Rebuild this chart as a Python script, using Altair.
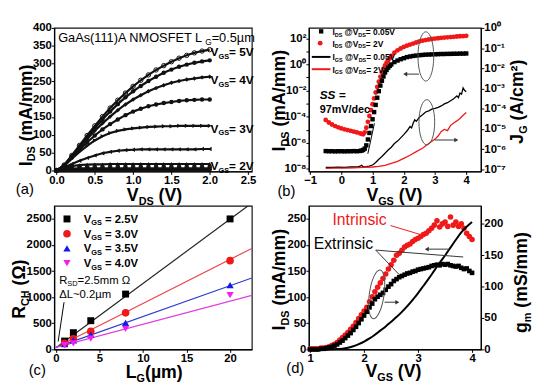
import altair as alt
import pandas as pd

FONT = "Liberation Sans"
RED = "#f01818"

# ---------------- (a) output characteristics ----------------
VDS = [0.0, 0.1, 0.2, 0.3, 0.4, 0.5, 0.6, 0.7, 0.8, 0.9, 1.0,
       1.1, 1.2, 1.3, 1.4, 1.5, 1.6, 1.7, 1.8, 1.9, 2.0]
VGS_A = ["5.0", "4.5", "4.0", "3.5", "3.0", "2.5", "2.0", "1.5", "1.0"]
IDS_50 = [0, 15, 42, 70, 98, 125, 151, 175, 197, 217, 236, 253, 268, 282, 294, 305, 315, 323, 330, 335, 339]
IDS_45 = [0, 14, 40, 67, 94, 119, 143, 165, 186, 205, 222, 237, 251, 263, 274, 283, 291, 297, 302, 306, 309]
IDS_40 = [0, 14, 38, 63, 88, 111, 132, 151, 169, 185, 199, 211, 222, 231, 239, 246, 251, 255, 258, 261, 263]
IDS_35 = [0, 13, 36, 58, 79, 98, 115, 130, 143, 155, 165, 173, 180, 185, 189, 192, 195, 197, 198, 199, 199]
IDS_30 = [0, 12, 33, 52, 69, 84, 96, 105, 111, 115, 118, 120, 122, 123, 124, 124, 125, 125, 125, 125, 125]
IDS_25 = [0, 8, 18, 27, 35, 42, 48, 52, 55, 57, 58, 59, 59, 59, 59, 59, 59, 59, 59, 60, 60]
IDS_20 = [0, 6, 12, 15, 16, 17, 17, 18, 18, 18, 18, 18, 18, 18, 18, 18, 18, 18, 18, 18, 18]
IDS_15 = [0, 3, 5, 6, 6, 6, 6, 6, 6, 6, 6, 6, 6, 6, 6, 6, 6, 6, 6, 6, 6]
IDS_10 = [0, 1, 1, 1, 1, 1, 1, 1, 1, 1, 1, 1, 1, 1, 1, 1, 1, 1, 1, 1, 1]
SHAPES_A = ["circle", "circle", "diamond", "circle", "triangle-right",
            "triangle-left", "triangle-up", "square", "diamond"]

# ---------------- (b) transfer characteristics ----------------
VB = [-0.5, -0.4, -0.3, -0.2, -0.1, 0.0, 0.1, 0.2, 0.3, 0.4, 0.5, 0.6,
      0.65, 0.7, 0.75, 0.8, 0.85, 0.9, 0.95, 1.0, 1.05, 1.1, 1.15, 1.2, 1.25, 1.3,
      1.35, 1.4, 1.45, 1.5, 1.55, 1.6,
      1.7, 1.8, 1.9, 2.0, 2.1, 2.2, 2.3, 2.4, 2.5, 2.6, 2.7, 2.8, 2.9, 3.0,
      3.1, 3.2, 3.3, 3.4, 3.5, 3.6, 3.7, 3.8, 3.9, 4.0]
LOG_IDS_2V = [-4.25, -4.45, -4.6, -4.72, -4.82, -4.9, -4.97, -5.03, -5.09, -5.15, -5.21, -5.28,
              -5.32, -5.35, -5.2, -4.85, -4.4, -3.95, -3.5, -3.05, -2.6, -2.15, -1.72, -1.32,
              -0.95, -0.62, -0.33, -0.08, 0.14, 0.33, 0.5, 0.65,
              0.9, 1.08, 1.22, 1.34, 1.44, 1.52, 1.6, 1.68, 1.76, 1.82, 1.87, 1.91, 1.95,
              1.98, 2.01, 2.04, 2.06, 2.08, 2.1, 2.12, 2.14, 2.16, 2.17, 2.19]
LOG_IDS_005 = [-6.64, -6.65, -6.65, -6.66, -6.65, -6.65, -6.66, -6.65, -6.65, -6.64, -6.65, -6.63,
               -6.6, -6.55, -6.45, -6.2, -5.75, -5.25, -4.72, -4.2, -3.65, -3.1, -2.55, -2.05,
               -1.62, -1.25, -0.92, -0.62, -0.42, -0.25, -0.11, 0.0,
               0.18, 0.3, 0.4, 0.48, 0.56, 0.61, 0.65, 0.68, 0.71, 0.73, 0.75, 0.76, 0.77,
               0.78, 0.79, 0.8, 0.8, 0.81, 0.81, 0.82, 0.82, 0.83, 0.83, 0.84]
VG_005 = [-0.5, -0.3, -0.1, 0.1, 0.3, 0.5, 0.6, 0.65, 0.7, 0.8, 0.9, 1.0, 1.1, 1.2, 1.3, 1.4,
          1.5, 1.6, 1.7, 1.8, 1.9, 2.0, 2.1, 2.2, 2.25, 2.3, 2.35, 2.4, 2.5, 2.6, 2.7, 2.8,
          2.9, 3.0, 3.1, 3.2, 3.3, 3.4, 3.5, 3.6, 3.7, 3.75, 3.8, 3.85, 3.9, 3.95, 4.0]
LOG_JG_005 = [-6.9, -6.9, -6.89, -6.9, -6.88, -6.88, -6.84, -6.8, -6.87, -6.86, -6.84, -6.78,
              -6.66, -6.5, -6.36, -6.2, -6.04, -5.9, -5.72, -5.6, -5.44, -5.28, -5.1, -4.88,
              -4.95, -4.72, -4.55, -4.62, -4.42, -4.3, -4.16, -4.1, -4.02, -3.98, -3.93, -3.86,
              -3.76, -3.7, -3.6, -3.5, -3.36, -3.45, -3.22, -3.28, -2.97, -3.1, -3.15]
VG_2 = [-0.5, -0.2, 0.1, 0.4, 0.7, 1.0, 1.2, 1.4, 1.6, 1.8, 2.0, 2.2, 2.4, 2.6, 2.8, 3.0,
        3.1, 3.2, 3.3, 3.4, 3.5, 3.6, 3.7, 3.8, 3.9, 4.0]
LOG_JG_2 = [-6.95, -6.94, -6.93, -6.92, -6.9, -6.88, -6.85, -6.8, -6.7, -6.6, -6.45, -6.3,
            -6.12, -5.95, -5.72, -5.5, -5.35, -5.12, -5.02, -5.08, -4.82, -4.7, -4.6, -4.48,
            -4.32, -4.18]

# ---------------- (c) channel resistance ----------------
LG = [1, 2, 4, 8, 20]
RCH_25 = [160, 320, 550, 1060, 2500]
RCH_30 = [115, 205, 345, 700, 1700]
RCH_35 = [100, 175, 283, 510, 1230]
RCH_40 = [80, 115, 205, 395, 1040]
FIT_L = [0, 22.5]
FIT_25 = [30, 2804]
FIT_30 = [38, 1935]
FIT_35 = [40, 1369]
FIT_40 = [40, 1036]

# ---------------- (d) transconductance ----------------
VD = [1.0, 1.05, 1.1, 1.15, 1.2, 1.25, 1.3, 1.35, 1.4, 1.45, 1.5, 1.55, 1.6, 1.65, 1.7, 1.75,
      1.8, 1.85, 1.9, 1.95, 2.0, 2.05, 2.1, 2.15, 2.2, 2.25, 2.3, 2.35, 2.4, 2.45, 2.5, 2.55,
      2.6, 2.65, 2.7, 2.75, 2.8, 2.85, 2.9, 2.95, 3.0, 3.05, 3.1, 3.15, 3.2, 3.25, 3.3, 3.35,
      3.4, 3.45, 3.5, 3.55, 3.6, 3.65, 3.7, 3.75, 3.8, 3.85, 3.9, 3.95, 4.0]
GM_INT = [1, 1, 1, 1, 2, 2, 3, 4, 6, 8, 11, 15, 19, 23, 27, 32, 37, 43, 49, 55,
          61, 67, 76, 84, 92, 99, 106, 113, 120, 128, 135, 142, 150, 153, 158, 163, 166, 168, 172, 175,
          177, 180, 183, 185, 189, 193, 198, 205, 195, 200, 203, 196, 211, 198, 203, 196, 200, 193, 185, 180,
          175]
GM_EXT = [0, 0, 0, 0, 1, 1, 2, 3, 4, 6, 8, 11, 14, 18, 22, 26, 31, 36, 42, 48,
          54, 60, 67, 73, 80, 84, 87, 90, 95, 100, 104, 109, 112, 115, 117, 119, 121, 122, 124, 125,
          127, 128, 129, 130, 131, 133, 134, 135, 134, 136, 135, 136, 134, 133, 132, 133, 130, 128, 129, 125,
          122]
VL = [1.0, 1.1, 1.2, 1.3, 1.4, 1.5, 1.6, 1.7, 1.8, 1.9, 2.0, 2.1, 2.2, 2.3, 2.4, 2.5, 2.6, 2.7,
      2.8, 2.9, 3.0, 3.1, 3.2, 3.3, 3.4, 3.5, 3.6, 3.7, 3.8, 3.9, 4.0]
IDS_D = [0, 0, 0, 0, 0.2, 0.6, 1.5, 3.3, 6, 10, 15, 21, 28, 36, 44, 53, 62, 72, 83, 95, 108,
         122, 136, 151, 166, 180, 195, 210, 224, 235, 244]

# ---------------- text helpers ----------------
_UP_B = [.722, .722, .722, .722, .667, .611, .778, .722, .278, .556, .722, .611, .833, .722, .778,
         .667, .778, .722, .667, .611, .722, .667, .944, .667, .667, .611]
_LO_B = [.556, .611, .556, .611, .556, .333, .611, .611, .278, .278, .556, .278, .889, .611, .611,
         .611, .611, .389, .556, .333, .611, .556, .778, .556, .556, .5]
_UP_R = [.667, .667, .722, .722, .667, .611, .778, .722, .278, .5, .667, .556, .833, .722, .778,
         .667, .778, .722, .667, .611, .722, .667, .944, .667, .667, .611]
_LO_R = [.556, .556, .5, .556, .556, .278, .556, .556, .222, .222, .5, .222, .833, .556, .556,
         .556, .556, .333, .5, .278, .556, .5, .722, .5, .5, .5]
_PUNCT = {" ": .278, "(": .333, ")": .333, "/": .278, "=": .584, ".": .278, "@": .975, "~": .584,
          "Ω": .768, "µ": .6, "Δ": .612, "²": .333, "-": .333}
BOLD = dict(zip("ABCDEFGHIJKLMNOPQRSTUVWXYZ", _UP_B))
BOLD.update(zip("abcdefghijklmnopqrstuvwxyz", _LO_B))
REG = dict(zip("ABCDEFGHIJKLMNOPQRSTUVWXYZ", _UP_R))
REG.update(zip("abcdefghijklmnopqrstuvwxyz", _LO_R))
for t in (BOLD, REG):
    t.update({c: .556 for c in "0123456789"})
    t.update(_PUNCT)

ONE = alt.Data(values=[{}])


def rich(o, x, y, segs, angle=0, anchor="left", bold=True, color="black", italic=False):
    ox, oy = o
    table = BOLD if bold else REG
    widths = [sum(table.get(c, .556) for c in t) * s for t, s, k in segs]
    total = sum(widths)
    main = max(s for t, s, k in segs)
    d, n = ((1, 0), (0, 1)) if angle == 0 else ((0, -1), (1, 0))
    acc = 0 if anchor == "left" else -total / 2
    out = []
    for (t, s, k), w in zip(segs, widths):
        lead = len(t) - len(t.lstrip(" "))
        off = lead * table[" "] * s
        sh = 0.22 * main if k == "sub" else 0
        px = x - ox + (acc + off) * d[0] + sh * n[0]
        py = y - oy + (acc + off) * d[1] + sh * n[1]
        out.append(alt.Chart(ONE).mark_text(
            text=t.strip(" "), font=FONT, fontSize=s, fontWeight="bold" if bold else "normal",
            fontStyle="italic" if italic else "normal", color=color, angle=angle,
            align="left", baseline="alphabetic").encode(x=alt.value(px), y=alt.value(py)))
        acc += w
    return out


def pt(o, x, y, shape, color, size, filled=True, angle=0):
    return alt.Chart(ONE).mark_point(shape=shape, color=color, size=size, filled=filled,
                                     opacity=1, angle=angle, strokeWidth=1).encode(
        x=alt.value(x - o[0]), y=alt.value(y - o[1]))


def seg(o, x1, y1, x2, y2, color="#222", width=1):
    return alt.Chart(ONE).mark_rule(color=color, strokeWidth=width).encode(
        x=alt.value(x1 - o[0]), y=alt.value(y1 - o[1]),
        x2=alt.value(x2 - o[0]), y2=alt.value(y2 - o[1]))


def ellipse(o, cx, cy, w, h, angle=0):
    rx = round(w / h, 3)
    path = f"M{-rx},0 A{rx},1 0 1,1 {rx},0 A{rx},1 0 1,1 {-rx},0 Z"
    return pt(o, cx, cy, path, "#555", h * h, filled=False, angle=angle)


SUP = str.maketrans("-0123456789", "⁻⁰¹²³⁴⁵⁶⁷⁸⁹")


def log_expr(ks):
    parts = [f"abs(log(datum.value)/LN10-({k}))<0.01 ? '10{str(k).translate(SUP)}'" for k in ks]
    return " : ".join(parts) + " : ''"


def ytitle(o, x, yc, a, b, c):
    return rich(o, x, yc, [(a, 18, "n"), (b, 11, "sub"), (c, 18, "n")], angle=270, anchor="center")


def xtitle(o, xc, y, a, b, c):
    return rich(o, xc, y, [(a, 18, "n"), (b, 11, "sub"), (c, 18, "n")], anchor="center")


# ================= panel (a) =================
oA = (51, 23)
series_a = [IDS_50, IDS_45, IDS_40, IDS_35, IDS_30, IDS_25, IDS_20, IDS_15, IDS_10]
df_a = pd.DataFrame([{"vds": v, "ids": i, "vgs": g}
                     for g, s in zip(VGS_A, series_a) for v, i in zip(VDS, s)])
xa = alt.X("vds:Q", scale=alt.Scale(domain=[-0.03, 2.55], nice=False, zero=False),
           axis=alt.Axis(values=[0, 0.5, 1, 1.5, 2, 2.5], format=".1f", title=None))
ya = alt.Y("ids:Q", scale=alt.Scale(domain=[-3, 400], nice=False, zero=False),
           axis=alt.Axis(values=list(range(0, 401, 50)), title=None))
lines_a = alt.Chart(df_a).mark_line(color="#111", strokeWidth=2.2).encode(x=xa, y=ya, detail="vgs:N")
pts_a = alt.Chart(df_a).transform_filter("datum.vgs != '5.0'").mark_point(
    filled=True, color="#111", size=20, opacity=1).encode(
    x=xa, y=ya, shape=alt.Shape("vgs:N", scale=alt.Scale(domain=VGS_A, range=SHAPES_A), legend=None))
pts_a5 = alt.Chart(df_a).transform_filter("datum.vgs == '5.0'").mark_point(
    filled=False, color="#111", size=20, opacity=1, strokeWidth=1).encode(x=xa, y=ya)
anno_a = []
anno_a += ytitle(oA, 28, 112, "I", "DS", " (mA/mm)")
anno_a += xtitle(oA, 153, 199, "V", "DS", " (V)")
anno_a += rich(oA, 12, 192, [("(a)", 15, "n")], bold=False)
anno_a += rich(oA, 55, 37.5, [("GaAs(111)A NMOSFET L", 13, "n"), ("G", 8.5, "sub"), ("=0.5µm", 13, "n")], bold=False)
for v, yb in [("5", 51.5), ("4", 80), ("3", 129.5), ("2", 167.5)]:
    anno_a += rich(oA, 210, yb, [("V", 12, "n"), ("GS", 7.5, "sub"), (f"= {v}V", 12, "n")])
pa = alt.layer(lines_a, pts_a, pts_a5, *anno_a).properties(width=201, height=146)

# ================= panel (b) =================
oB = (309, 23)
df_b2 = pd.DataFrame({"v": VB, "i": [10 ** e for e in LOG_IDS_2V]})
df_b0 = pd.DataFrame({"v": VB, "i": [10 ** e for e in LOG_IDS_005]})
df_g0 = pd.DataFrame({"v": VG_005, "j": [10 ** e for e in LOG_JG_005]})
df_g2 = pd.DataFrame({"v": VG_2, "j": [10 ** e for e in LOG_JG_2]})
xb = alt.X("v:Q", scale=alt.Scale(domain=[-1.04, 4.47], nice=False, zero=False),
           axis=alt.Axis(values=[-1, 0, 1, 2, 3, 4], title=None))
yb = alt.Y("i:Q", scale=alt.Scale(type="log", domain=[10 ** -8.2, 10 ** 2.8], nice=False),
           axis=alt.Axis(values=[10.0 ** k for k in range(-8, 3)],
                         labelExpr=log_expr([-8, -6, -4, -2, 0, 2]), title=None))
yj = alt.Y("j:Q", scale=alt.Scale(type="log", domain=[10 ** -7.1, 1], nice=False),
           axis=alt.Axis(orient="right", values=[10.0 ** k for k in range(-7, 1)],
                         labelExpr=log_expr(list(range(-7, 1))), title=None))
red_b = alt.Chart(df_b2).mark_point(shape="circle", filled=True, color=RED, size=24, opacity=1).encode(x=xb, y=yb)
blk_b = alt.Chart(df_b0).mark_point(shape="square", filled=True, color="black", size=20, opacity=1).encode(x=xb, y=yb)
g0 = alt.Chart(df_g0).mark_line(color="black", strokeWidth=1.3).encode(x=xb, y=yj)
g2 = alt.Chart(df_g2).mark_line(color=RED, strokeWidth=1.3).encode(x=xb, y=yj)
anno_b = []
anno_b += ytitle(oB, 285, 97, "I", "DS", " (mA/mm)")
anno_b += ytitle(oB, 527, 98, "J", "G", " (A/cm²)")
anno_b += xtitle(oB, 396, 199, "V", "GS", " (V)")
anno_b += rich(oB, 277, 194, [("(b)", 15, "n")], bold=False)
anno_b.append(pt(oB, 321.5, 26.5, "square", "black", 20))
anno_b += rich(oB, 333, 30, [("I", 8.5, "n"), ("DS", 5.5, "sub"), (" @V", 8.5, "n"), ("DS", 5.5, "sub"), ("= 0.05V", 8.5, "n")])
anno_b.append(pt(oB, 320.5, 38.5, "circle", RED, 24))
anno_b += rich(oB, 333, 42, [("I", 8.5, "n"), ("DS", 5.5, "sub"), (" @V", 8.5, "n"), ("DS", 5.5, "sub"), ("= 2V", 8.5, "n")])
anno_b.append(seg(oB, 312, 52.5, 331, 52.5, "black", 2))
anno_b += rich(oB, 333, 56, [("I", 8.5, "n"), ("GS", 5.5, "sub"), (" @V", 8.5, "n"), ("DS", 5.5, "sub"), ("= 0.05V", 8.5, "n")])
anno_b.append(seg(oB, 312, 65, 331, 65, RED, 2))
anno_b += rich(oB, 333, 68.5, [("I", 8.5, "n"), ("GS", 5.5, "sub"), (" @V", 8.5, "n"), ("DS", 5.5, "sub"), ("= 2V", 8.5, "n")])
anno_b += rich(oB, 320, 95, [("SS =", 12, "n")], italic=True)
anno_b += rich(oB, 320, 110, [("97mV/dec", 11, "n")])
anno_b.append(seg(oB, 369, 151, 375.7, 120, "black", 1))
anno_b.append(ellipse(oB, 428, 52, 16, 50))
anno_b.append(seg(oB, 421, 70, 408, 70, "#333", 1))
anno_b.append(pt(oB, 407, 70, "triangle-left", "#333", 22))
anno_b.append(ellipse(oB, 429, 119, 16, 46))
anno_b.append(seg(oB, 437, 137, 458, 137, "#333", 1))
anno_b.append(pt(oB, 459, 137, "triangle-right", "#333", 22))
pb = alt.layer(alt.layer(red_b, blk_b), alt.layer(g0, g2), *anno_b).resolve_scale(
    y="independent").properties(width=175, height=146)

# ================= panel (c) =================
oC = (51, 205)
xc = alt.X("L:Q", scale=alt.Scale(domain=[-0.2, 22.5], nice=False, zero=False),
           axis=alt.Axis(values=[0, 5, 10, 15, 20], title=None))
yc = alt.Y("R:Q", scale=alt.Scale(domain=[0, 2750], nice=False),
           axis=alt.Axis(values=[0, 500, 1000, 1500, 2000, 2500], format="d", title=None))
c_series = [("2.5", RCH_25, FIT_25, "square", "black", "#222", 50),
            ("3.0", RCH_30, FIT_30, "circle", RED, "#e8474a", 60),
            ("3.5", RCH_35, FIT_35, "triangle-up", "#1717e8", "#2c3fd1", 55),
            ("4.0", RCH_40, FIT_40, "triangle-down", "#f020f0", "#e040e0", 55)]
c_layers = []
for lab, r, f, shp, col, lcol, sz in c_series:
    c_layers.append(alt.Chart(pd.DataFrame({"L": FIT_L, "R": f})).mark_line(
        color=lcol, strokeWidth=1.2, clip=True).encode(x=xc, y=yc))
for lab, r, f, shp, col, lcol, sz in c_series:
    c_layers.append(alt.Chart(pd.DataFrame({"L": LG, "R": r})).mark_point(
        shape=shp, color=col, filled=True, size=sz, opacity=1).encode(x=xc, y=yc))
anno_c = []
anno_c += ytitle(oC, 21, 290, "R", "CH", " (Ω)")
anno_c += xtitle(oC, 153, 380, "L", "G", "(µm)")
anno_c += rich(oC, 25, 377, [("(c)", 15, "n")], bold=False)
for (lab, r, f, shp, col, lcol, sz), yy in zip(c_series, [218.3, 233.3, 248.3, 263.3]):
    anno_c.append(pt(oC, 64, yy, shp, col, sz))
    anno_c += rich(oC, 81, yy + 4, [("V", 11.5, "n"), ("GS", 7.5, "sub"), (f" = {lab}V", 11.5, "n")])
anno_c += rich(oC, 56, 284, [("R", 11.5, "n"), ("SD", 7.5, "sub"), ("=2.5mm Ω", 11.5, "n")], bold=False)
anno_c += rich(oC, 56, 299, [("ΔL~0.2µm", 11.5, "n")], bold=False)
anno_c.append(seg(oC, 61, 303, 55, 343, "black", 1))
pc = alt.layer(*c_layers, *anno_c).properties(width=201, height=146)

# ================= panel (d) =================
oD = (309, 205)
df_int = pd.DataFrame({"v": VD, "gm": GM_INT})
df_ext = pd.DataFrame({"v": VD, "gm": GM_EXT})
df_ids = pd.DataFrame({"v": VL, "ids": IDS_D})
xd = alt.X("v:Q", scale=alt.Scale(domain=[0.976, 4.164], nice=False, zero=False),
           axis=alt.Axis(values=[1, 2, 3, 4], title=None))
ygm = alt.Y("gm:Q", scale=alt.Scale(domain=[0, 228.7], nice=False),
            axis=alt.Axis(orient="right", values=[0, 50, 100, 150, 200], title=None))
yid = alt.Y("ids:Q", scale=alt.Scale(domain=[0, 275], nice=False),
            axis=alt.Axis(orient="left", values=[0, 50, 100, 150, 200, 250], title=None))
int_pts = alt.Chart(df_int).mark_point(shape="circle", filled=True, color=RED, size=32, opacity=1).encode(x=xd, y=ygm)
ext_pts = alt.Chart(df_ext).mark_point(shape="square", filled=True, color="black", size=22, opacity=1).encode(x=xd, y=ygm)
ids_line = alt.Chart(df_ids).mark_line(color="black", strokeWidth=2, interpolate="monotone").encode(x=xd, y=yid)
anno_d = []
anno_d += ytitle(oD, 285, 280, "I", "DS", " (mA/mm)")
anno_d += ytitle(oD, 531, 283, "g", "m", " (mS/mm)")
anno_d += xtitle(oD, 395, 379.5, "V", "GS", " (V)")
anno_d += rich(oD, 286, 375, [("(d)", 15, "n")], bold=False)
anno_d += rich(oD, 333, 224, [("Intrinsic", 16, "n")], bold=False, color=RED)
anno_d += rich(oD, 314, 249, [("Extrinsic", 16, "n")], bold=False)
anno_d.append(seg(oD, 392, 225, 422, 234, RED, 1))
anno_d.append(seg(oD, 377, 250, 401, 275, "#333", 1))
anno_d.append(seg(oD, 377, 250, 466, 257, "#333", 1))
anno_d.append(ellipse(oD, 378, 295, 15, 50, angle=8))
anno_d.append(seg(oD, 451, 249, 430, 249, "#333", 1))
anno_d.append(pt(oD, 429, 249, "triangle-left", "#333", 22))
anno_d.append(seg(oD, 386, 303, 398, 303, "#333", 1))
anno_d.append(pt(oD, 399, 303, "triangle-right", "#333", 22))
pd_ = alt.layer(alt.layer(int_pts, ext_pts), ids_line, *anno_d).resolve_scale(
    y="independent").properties(width=175, height=146)

chart = alt.concat(pa, pb, pc, pd_, columns=2, spacing={"row": 35, "column": 58},
                   bounds="flush").properties(
    padding={"left": 2, "top": 10, "right": 0, "bottom": 0}, background="white")
chart = chart.configure_view(stroke="#111", strokeWidth=1.2).configure_axis(
    labelFont=FONT, labelFontSize=11.5, labelFontWeight="bold", labelColor="black",
    tickColor="black", domainColor="black", tickSize=3, labelPadding=0, grid=False,
    domainWidth=1.2)

chart.save("out.html", embed_options={"renderer": "svg", "actions": False})
